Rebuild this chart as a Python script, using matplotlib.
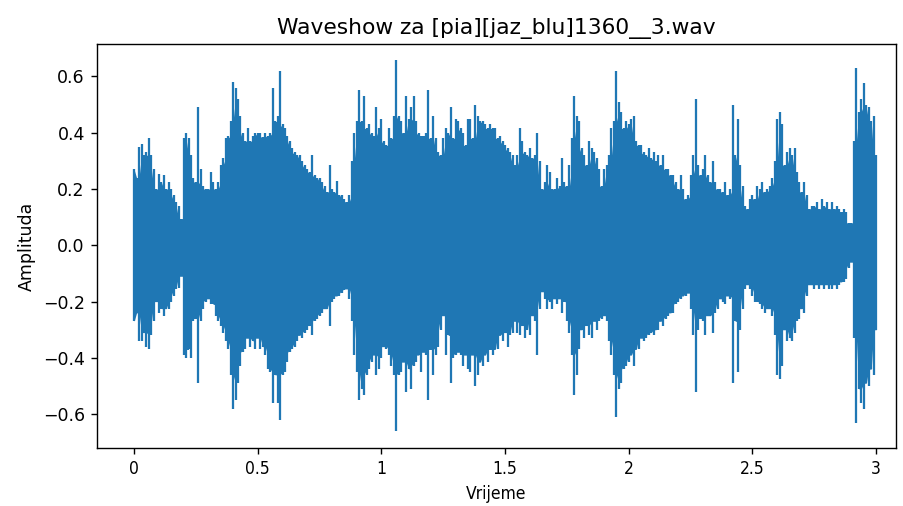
import numpy as np
import matplotlib.pyplot as plt

# Peak envelope of the recording, one value every 10 ms (0 .. 3 s)
time_s = np.round(np.arange(301) * 0.01, 2)
upper = [0.27, 0.24, 0.35, 0.36, 0.32, 0.33, 0.38, 0.32, 0.27, 0.20,
         0.255, 0.225, 0.25, 0.20, 0.225, 0.20, 0.18, 0.155, 0.14, 0.095,
         0.38, 0.40, 0.38, 0.32, 0.24, 0.225, 0.49, 0.27, 0.21, 0.20,
         0.20, 0.26, 0.225, 0.20, 0.225, 0.285, 0.31, 0.38, 0.39, 0.44,
         0.58, 0.56, 0.52, 0.46, 0.40, 0.37, 0.415, 0.37, 0.39, 0.40,
         0.40, 0.40, 0.385, 0.40, 0.39, 0.40, 0.56, 0.44, 0.46, 0.62,
         0.43, 0.415, 0.39, 0.37, 0.345, 0.33, 0.32, 0.32, 0.30, 0.285,
         0.27, 0.26, 0.32, 0.25, 0.24, 0.24, 0.225, 0.21, 0.19, 0.285,
         0.20, 0.19, 0.23, 0.18, 0.18, 0.165, 0.155, 0.18, 0.30, 0.40,
         0.44, 0.55, 0.44, 0.53, 0.415, 0.43, 0.40, 0.39, 0.49, 0.415,
         0.45, 0.37, 0.355, 0.415, 0.38, 0.46, 0.66, 0.46, 0.44, 0.40,
         0.53, 0.45, 0.49, 0.53, 0.44, 0.40, 0.39, 0.39, 0.40, 0.55,
         0.38, 0.46, 0.38, 0.33, 0.32, 0.38, 0.415, 0.40, 0.49, 0.38,
         0.45, 0.44, 0.415, 0.40, 0.355, 0.45, 0.45, 0.38, 0.50, 0.46,
         0.44, 0.44, 0.43, 0.415, 0.43, 0.415, 0.415, 0.38, 0.39, 0.37,
         0.355, 0.345, 0.33, 0.32, 0.285, 0.32, 0.415, 0.37, 0.33, 0.32,
         0.345, 0.31, 0.32, 0.40, 0.30, 0.20, 0.225, 0.285, 0.26, 0.20,
         0.20, 0.24, 0.21, 0.31, 0.225, 0.21, 0.285, 0.38, 0.53, 0.46,
         0.44, 0.345, 0.32, 0.285, 0.37, 0.345, 0.33, 0.31, 0.27, 0.21,
         0.27, 0.285, 0.32, 0.415, 0.44, 0.62, 0.51, 0.475, 0.415, 0.44,
         0.43, 0.45, 0.46, 0.37, 0.355, 0.355, 0.33, 0.32, 0.345, 0.31,
         0.33, 0.30, 0.32, 0.285, 0.32, 0.27, 0.27, 0.25, 0.25, 0.225,
         0.20, 0.25, 0.20, 0.165, 0.18, 0.25, 0.32, 0.52, 0.285, 0.25,
         0.27, 0.32, 0.25, 0.225, 0.30, 0.225, 0.20, 0.20, 0.19, 0.225,
         0.18, 0.20, 0.50, 0.32, 0.45, 0.285, 0.21, 0.14, 0.13, 0.165,
         0.18, 0.165, 0.21, 0.20, 0.225, 0.19, 0.20, 0.21, 0.24, 0.30,
         0.45, 0.475, 0.43, 0.285, 0.33, 0.345, 0.32, 0.345, 0.26, 0.225,
         0.19, 0.225, 0.18, 0.13, 0.14, 0.14, 0.155, 0.13, 0.165, 0.14,
         0.155, 0.13, 0.155, 0.13, 0.14, 0.13, 0.12, 0.13, 0.12, 0.08,
         0.08, 0.37, 0.63, 0.475, 0.52, 0.575, 0.50, 0.49, 0.44, 0.46,
         0.32]
lower = [-0.27, -0.24, -0.34, -0.34, -0.31, -0.36, -0.37, -0.32, -0.27, -0.20,
         -0.24, -0.225, -0.25, -0.225, -0.225, -0.20, -0.18, -0.155, -0.15, -0.11,
         -0.39, -0.40, -0.37, -0.40, -0.27, -0.26, -0.49, -0.27, -0.225, -0.20,
         -0.19, -0.21, -0.21, -0.25, -0.27, -0.285, -0.31, -0.34, -0.37, -0.46,
         -0.58, -0.55, -0.49, -0.43, -0.38, -0.37, -0.33, -0.36, -0.34, -0.37,
         -0.33, -0.37, -0.36, -0.39, -0.44, -0.45, -0.56, -0.46, -0.56, -0.62,
         -0.46, -0.45, -0.415, -0.38, -0.37, -0.36, -0.34, -0.32, -0.33, -0.31,
         -0.30, -0.285, -0.32, -0.27, -0.26, -0.25, -0.24, -0.225, -0.225, -0.285,
         -0.20, -0.19, -0.18, -0.18, -0.17, -0.16, -0.155, -0.19, -0.27, -0.39,
         -0.45, -0.55, -0.51, -0.53, -0.46, -0.44, -0.415, -0.39, -0.46, -0.44,
         -0.40, -0.36, -0.37, -0.39, -0.43, -0.46, -0.66, -0.46, -0.45, -0.415,
         -0.52, -0.44, -0.51, -0.43, -0.415, -0.39, -0.45, -0.38, -0.39, -0.55,
         -0.37, -0.46, -0.39, -0.36, -0.30, -0.25, -0.39, -0.32, -0.49, -0.40,
         -0.39, -0.38, -0.39, -0.43, -0.39, -0.44, -0.45, -0.39, -0.50, -0.46,
         -0.415, -0.43, -0.39, -0.415, -0.37, -0.39, -0.37, -0.37, -0.32, -0.34,
         -0.31, -0.36, -0.32, -0.31, -0.27, -0.31, -0.32, -0.285, -0.33, -0.30,
         -0.32, -0.25, -0.27, -0.39, -0.225, -0.165, -0.19, -0.225, -0.20, -0.225,
         -0.19, -0.21, -0.19, -0.24, -0.20, -0.27, -0.31, -0.39, -0.53, -0.46,
         -0.37, -0.30, -0.33, -0.285, -0.32, -0.33, -0.27, -0.30, -0.27, -0.26,
         -0.25, -0.27, -0.34, -0.39, -0.46, -0.61, -0.51, -0.49, -0.44, -0.43,
         -0.415, -0.39, -0.43, -0.37, -0.37, -0.33, -0.34, -0.33, -0.32, -0.31,
         -0.32, -0.30, -0.30, -0.27, -0.285, -0.26, -0.25, -0.24, -0.24, -0.21,
         -0.20, -0.19, -0.18, -0.18, -0.17, -0.225, -0.32, -0.52, -0.30, -0.26,
         -0.27, -0.32, -0.25, -0.25, -0.31, -0.24, -0.225, -0.19, -0.20, -0.21,
         -0.18, -0.19, -0.49, -0.27, -0.45, -0.30, -0.225, -0.155, -0.14, -0.155,
         -0.18, -0.20, -0.20, -0.21, -0.225, -0.24, -0.225, -0.225, -0.25, -0.32,
         -0.46, -0.475, -0.43, -0.30, -0.34, -0.33, -0.34, -0.31, -0.27, -0.26,
         -0.225, -0.24, -0.18, -0.14, -0.14, -0.155, -0.14, -0.155, -0.14, -0.155,
         -0.14, -0.155, -0.155, -0.14, -0.155, -0.14, -0.13, -0.13, -0.12, -0.08,
         -0.06, -0.33, -0.63, -0.51, -0.56, -0.58, -0.49, -0.50, -0.44, -0.46,
         -0.30]

up = np.array(upper)
lo = np.array(lower)
# solid body: the smallest swing over each point and its neighbours
core_up = np.minimum(up, np.minimum(np.roll(up, 1), np.roll(up, -1)))
core_lo = np.maximum(lo, np.maximum(np.roll(lo, 1), np.roll(lo, -1)))
core_up[[0, -1]] = up[[0, -1]]
core_lo[[0, -1]] = lo[[0, -1]]

fig = plt.figure(figsize=(903 / 125, 506 / 125), dpi=125)
ax = fig.add_axes([0.1074, 0.1146, 0.8848, 0.7984])

ax.fill_between(time_s, core_lo, core_up, color='C0', linewidth=0)
ax.vlines(time_s, lo, up, color='C0', linewidth=1.3)

ax.set_xlim(-0.15, 3.08)
ax.set_ylim(-0.72, 0.715)
ax.set_xticks([0, 0.5, 1, 1.5, 2, 2.5, 3])
ax.set_xticklabels(['0', '0.5', '1', '1.5', '2', '2.5', '3'], fontstretch='condensed')
ax.set_yticks([-0.6, -0.4, -0.2, 0.0, 0.2, 0.4, 0.6])

ax.set_title('Waveshow za [pia][jaz_blu]1360__3.wav', fontsize=12.5)
ax.set_xlabel('Vrijeme', fontstretch='condensed')
ax.set_ylabel('Amplituda')

fig.savefig('out.png', dpi=125)
